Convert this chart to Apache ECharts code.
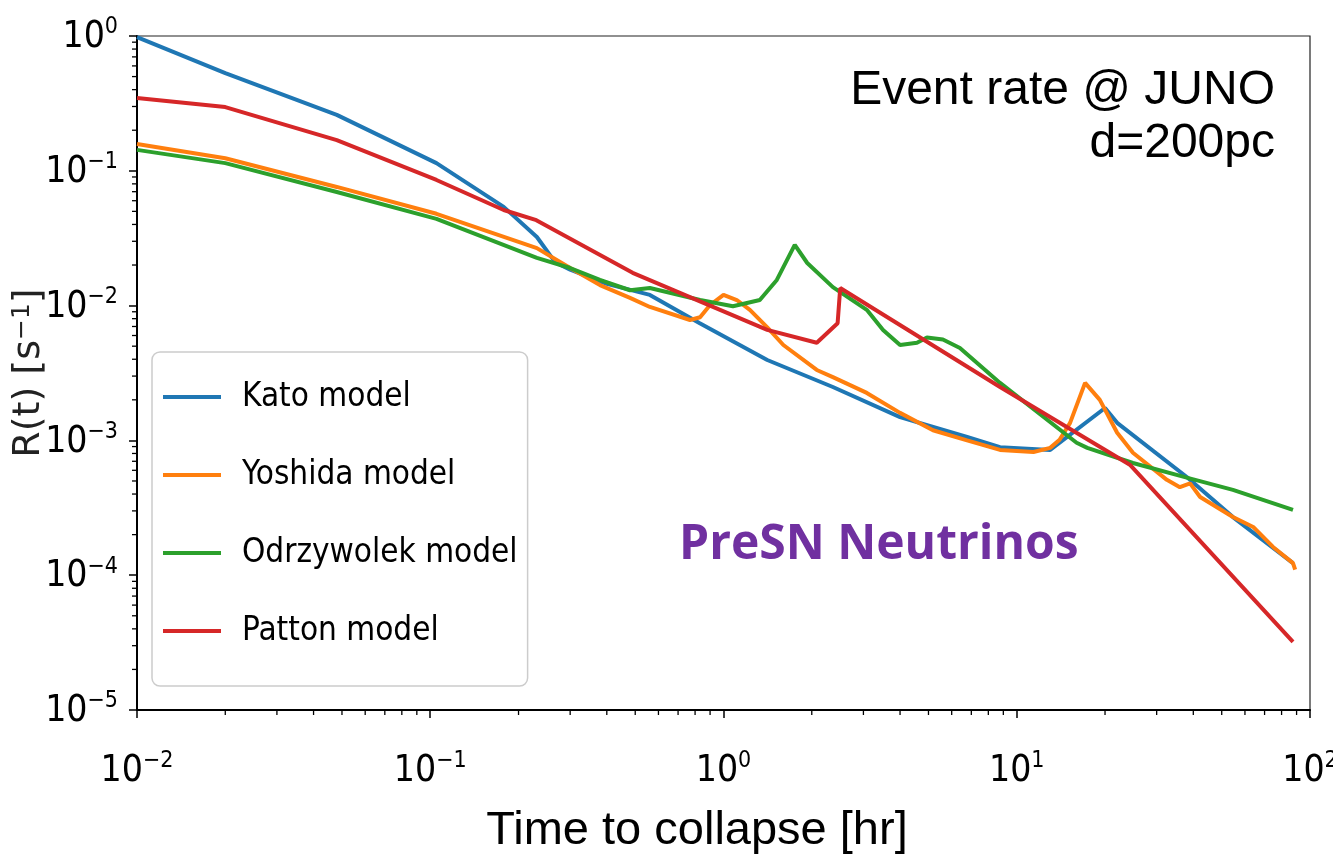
<!DOCTYPE html>
<html>
<head>
<meta charset="utf-8">
<script src="https://cdn.jsdelivr.net/npm/echarts@6/dist/echarts.min.js"></script>
<style>html,body{margin:0;padding:0;background:#fff}#c{width:1333px;height:857px}</style>
</head>
<body>
<div id="c"></div>
<script>
// ---- data (time to collapse [hr], rate [1/s]) ----
const katoT = [0.01, 0.02, 0.048, 0.105, 0.178, 0.231, 0.2665, 0.3, 0.4, 0.561, 0.83, 1.41, 2.36, 4.0, 6.77, 8.77, 13.0, 20.0, 22.0, 38.0, 54.6, 87.5];
const katoR = [0.98, 0.53, 0.26, 0.114, 0.054, 0.0323, 0.021, 0.0185, 0.0145, 0.012, 0.0074, 0.00395, 0.00249, 0.00149, 0.00106, 0.00089, 0.00085, 0.00174, 0.00135, 0.000535, 0.00027, 0.000123];

const yoshidaT = [0.01, 0.02, 0.048, 0.105, 0.231, 0.3, 0.379, 0.48, 0.561, 0.769, 0.832, 0.90, 1.0, 1.11, 1.23, 1.41, 1.60, 2.08, 2.36, 3.08, 4.0, 5.18, 6.77, 8.77, 11.4, 13.0, 14.0, 15.2, 17.1, 19.2, 22.0, 24.9, 32.5, 36, 39, 42.2, 54.6, 64, 74.8, 87.5, 89];
const yoshidaR = [0.158, 0.124, 0.0759, 0.048, 0.0267, 0.019, 0.0142, 0.0114, 0.00977, 0.00782, 0.0082, 0.0101, 0.012, 0.011, 0.0093, 0.0069, 0.0051, 0.00333, 0.00295, 0.00225, 0.0016, 0.00119, 0.001, 0.00085, 0.00082, 0.00088, 0.00101, 0.00135, 0.00267, 0.002, 0.00114, 0.00081, 0.00051, 0.00045, 0.00048, 0.00038, 0.00027, 0.000228, 0.000162, 0.000123, 0.00011];

const odrzT = [0.01, 0.02, 0.048, 0.105, 0.231, 0.3, 0.379, 0.48, 0.561, 0.832, 1.077, 1.33, 1.52, 1.75, 1.93, 2.36, 3.08, 3.50, 4.0, 4.57, 4.94, 5.6, 6.4, 8.77, 16.0, 17.4, 24.9, 38, 54.6, 87.5];
const odrzR = [0.143, 0.114, 0.0696, 0.044, 0.0226, 0.019, 0.0155, 0.013, 0.0135, 0.011, 0.0099, 0.011, 0.0155, 0.0282, 0.0207, 0.0137, 0.0093, 0.0066, 0.0051, 0.0053, 0.0058, 0.0056, 0.00484, 0.00267, 0.00096, 0.00088, 0.00068, 0.00053, 0.00043, 0.000305];

const pattonT = [0.01, 0.02, 0.048, 0.105, 0.178, 0.23, 0.49, 1.41, 2.08, 2.45, 2.5, 8.77, 24.3, 87.5];
const pattonR = [0.347, 0.297, 0.169, 0.0855, 0.0512, 0.043, 0.0175, 0.0066, 0.0053, 0.0074, 0.0135, 0.00249, 0.00066, 0.000032];

const seriesNames = ['Kato model', 'Yoshida model', 'Odrzywolek model', 'Patton model'];
const seriesColors = ['#1f77b4', '#ff7f0e', '#2ca02c', '#d62728'];
const X_MIN = 0.01, X_MAX = 100, Y_MIN = 1e-5, Y_MAX = 1;
const xTitle = 'Time to collapse [hr]';
const yTitle = 'R(t) [s{sup|−1}]';
const noteLines = ['Event rate @ JUNO', 'd=200pc'];
const stamp = 'PreSN Neutrinos';

// ---- helpers ----
const NARROW = "'DejaVu Sans Condensed', 'DejaVu Sans', sans-serif";
function pairs(t, r) { return t.map((v, i) => [v, r[i]]); }
function minorVals(lo, hi) {
  const out = [];
  for (let e = Math.round(Math.log10(lo)); e < Math.round(Math.log10(hi)); e++) {
    for (let m = 2; m <= 9; m++) out.push(m * Math.pow(10, e));
  }
  return out;
}
const xMinor = minorVals(X_MIN, X_MAX);
const yMinor = minorVals(Y_MIN, Y_MAX);
function fmt(v) {
  const e = Math.round(Math.log10(v));
  return '{b|10}{s|' + String(e).replace('-', '−') + '}';
}
const tickRich = {
  b: { fontSize: 37, fontFamily: NARROW, color: '#000', lineHeight: 40, verticalAlign: 'bottom' },
  s: { fontSize: 23, fontFamily: NARROW, color: '#000', lineHeight: 40, verticalAlign: 'top' }
};

const lineSeries = [pairs(katoT, katoR), pairs(yoshidaT, yoshidaR), pairs(odrzT, odrzR), pairs(pattonT, pattonR)]
  .map((d, i) => ({
    name: seriesNames[i], type: 'line', data: d, showSymbol: false, symbol: 'none',
    lineStyle: { color: seriesColors[i], width: 4 }, itemStyle: { color: seriesColors[i] },
    z: 3, animation: false
  }));

const minorX = {
  type: 'custom', name: 'xminor', silent: true, clip: false, z: 6, animation: false,
  data: xMinor.map(v => [v, Y_MIN]),
  renderItem: (p, api) => {
    const c = api.coord([api.value(0), api.value(1)]);
    return { type: 'line', shape: { x1: c[0], y1: c[1], x2: c[0], y2: c[1] + 5 }, style: { stroke: '#000', lineWidth: 1.3 } };
  }
};
const minorY = {
  type: 'custom', name: 'yminor', silent: true, clip: false, z: 6, animation: false,
  data: yMinor.map(v => [X_MIN, v]),
  renderItem: (p, api) => {
    const c = api.coord([api.value(0), api.value(1)]);
    return { type: 'line', shape: { x1: c[0], y1: c[1], x2: c[0] - 5, y2: c[1] }, style: { stroke: '#000', lineWidth: 1.3 } };
  }
};

const chart = echarts.init(document.getElementById('c'), null, { renderer: 'canvas' });
chart.setOption({
  backgroundColor: '#fff',
  animation: false,
  grid: { left: 137, right: 23, top: 36, bottom: 147, show: true, borderColor: '#222', borderWidth: 1.2, containLabel: false, outerBoundsMode: 'none' },
  xAxis: {
    type: 'log', logBase: 10, min: X_MIN, max: X_MAX, splitNumber: 4,
    axisLine: { onZero: false, lineStyle: { color: '#000', width: 2 } },
    axisTick: { length: 8, lineStyle: { color: '#000', width: 1.5 } },
    splitLine: { show: false },
    axisLabel: { formatter: fmt, margin: 40, rich: tickRich, showMinLabel: true, showMaxLabel: true, hideOverlap: false },
    name: xTitle, nameLocation: 'middle', nameGap: 98, nameMoveOverlap: false,
    nameTextStyle: { fontFamily: "'Liberation Sans', Arial, sans-serif", fontSize: 47, color: '#000', padding: [0, 53, 0, 0] }
  },
  yAxis: {
    type: 'log', logBase: 10, min: Y_MIN, max: Y_MAX, splitNumber: 5,
    axisLine: { onZero: false, lineStyle: { color: '#000', width: 2 } },
    axisTick: { length: 8, lineStyle: { color: '#000', width: 1.5 } },
    splitLine: { show: false },
    axisLabel: { formatter: fmt, margin: 19, rich: tickRich, showMinLabel: true, showMaxLabel: true, hideOverlap: false },
    name: yTitle, nameLocation: 'middle', nameGap: 89, nameRotate: 90, nameMoveOverlap: false,
    nameTextStyle: { fontFamily: "'DejaVu Sans', sans-serif", fontSize: 38, color: '#222',
      rich: { sup: { fontFamily: "'DejaVu Sans', sans-serif", fontSize: 25, color: '#222', verticalAlign: 'top' } } }
  },
  legend: {
    data: seriesNames, orient: 'vertical', left: 152, top: 352,
    padding: [21, 10, 31, 11], itemWidth: 58, itemHeight: 4, itemGap: 30, icon: 'rect',
    backgroundColor: 'rgba(255,255,255,0.85)', borderColor: '#ccc', borderWidth: 1.5, borderRadius: 8,
    textStyle: { fontFamily: NARROW, fontSize: 33, color: '#000', lineHeight: 48, padding: [0, 0, 0, 16] }
  },
  graphic: [
    { type: 'text', right: 58, top: 67, z: 10,
      style: { text: noteLines[0], font: "48px 'Liberation Sans', Arial, sans-serif", fill: '#000' } },
    { type: 'text', right: 58, top: 120, z: 10,
      style: { text: noteLines[1], font: "48px 'Liberation Sans', Arial, sans-serif", fill: '#000' } },
    { type: 'text', left: 679, top: 521, z: 10,
      style: { text: stamp, font: "bold 48px 'Open Sans', 'Noto Sans', sans-serif", fill: '#7030a0' } }
  ],
  series: lineSeries.concat([minorX, minorY])
});
</script>
</body>
</html>
